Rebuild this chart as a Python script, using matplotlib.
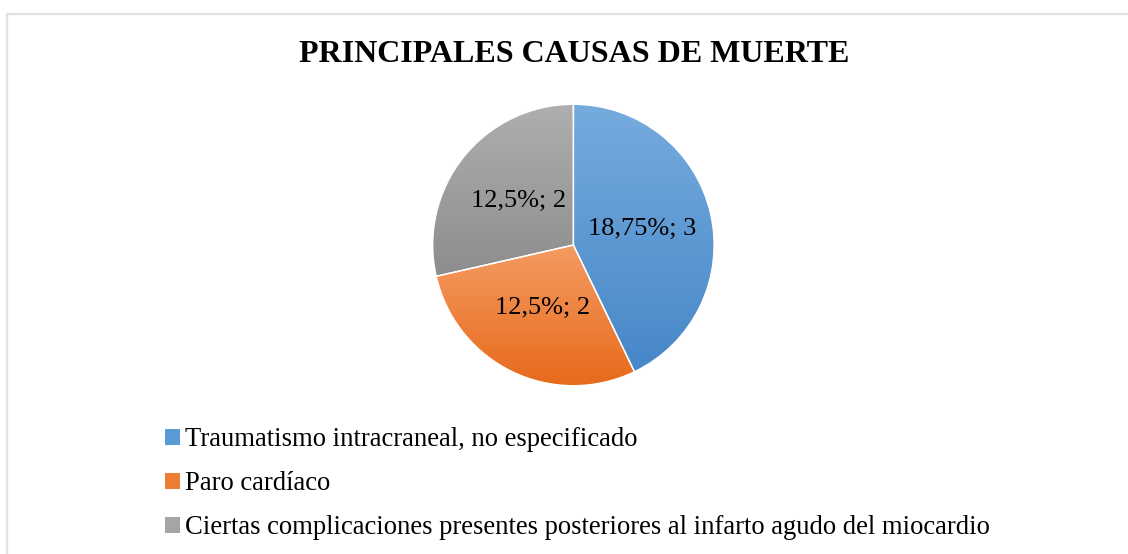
import matplotlib.pyplot as plt
import numpy as np
from matplotlib.colors import LinearSegmentedColormap
from matplotlib.patches import Rectangle

plt.rcParams['font.family'] = ['Liberation Serif', 'DejaVu Serif']

causes = ["Traumatismo intracraneal, no especificado",
          "Paro cardíaco",
          "Ciertas complicaciones presentes posteriores al infarto agudo del miocardio"]
counts = [3, 2, 2]
labels = ["18,75%; 3", "12,5%; 2", "12,5%; 2"]
top_colors = ["#76abde", "#f49b63", "#afafaf"]
bottom_colors = ["#4787c8", "#e76a1a", "#8d8d8d"]
mid_colors = ["#5b9bd5", "#ed7d31", "#a5a5a5"]

W, H = 1128, 554
fig = plt.figure(figsize=(W / 100, H / 100), dpi=100)

# light border of the chart area
fig.patches.append(Rectangle((7 / W, -0.1), 1.2, 1 - 14 / H + 0.1, transform=fig.transFigure,
                             fill=False, edgecolor="#dde2e7", linewidth=1.6))

fig.text(574 / W, 1 - 54 / H, "PRINCIPALES CAUSAS DE MUERTE", ha="center", va="center",
         fontsize=23, fontweight="bold")

cx, cy, r = 573.4, 245, 140.7
ax = fig.add_axes([(cx - r) / W, (H - cy - r) / H, 2 * r / W, 2 * r / H])

it = iter(labels)
wedges, _, autotexts = ax.pie(counts, startangle=90, counterclock=False, radius=1,
                              autopct=lambda p: next(it), pctdistance=0.5,
                              colors=mid_colors,
                              textprops=dict(fontsize=19, color="black"))

for w, c0, c1 in zip(wedges, top_colors, bottom_colors):
    x0, y0, x1, y1 = w.get_path().get_extents().extents
    cmap = LinearSegmentedColormap.from_list("g", [c1, c0])
    grad = np.linspace(0, 1, 256).reshape(-1, 1)
    im = ax.imshow(grad, cmap=cmap, origin="lower", extent=(x0, x1, y0, y1),
                   aspect="auto", zorder=1)
    im.set_clip_path(w)
    w.set_facecolor("none")
    w.set_edgecolor("white")
    w.set_linewidth(1)
    w.set_zorder(2)

for t in autotexts:
    t.set_zorder(3)

ax.set_xlim(-1, 1)
ax.set_ylim(-1, 1)
ax.set_aspect("auto")
ax.axis("off")

handles = [Rectangle((0, 0), 1, 1, facecolor=c) for c in mid_colors]
fig.legend(handles, causes, loc="upper left", bbox_to_anchor=(165 / W, 1 - 427 / H),
           frameon=False, fontsize=19.2, handlelength=0.55, handleheight=0.55,
           handletextpad=0.2, labelspacing=0.72, borderpad=0, borderaxespad=0)

fig.savefig("out.png", dpi=100)
